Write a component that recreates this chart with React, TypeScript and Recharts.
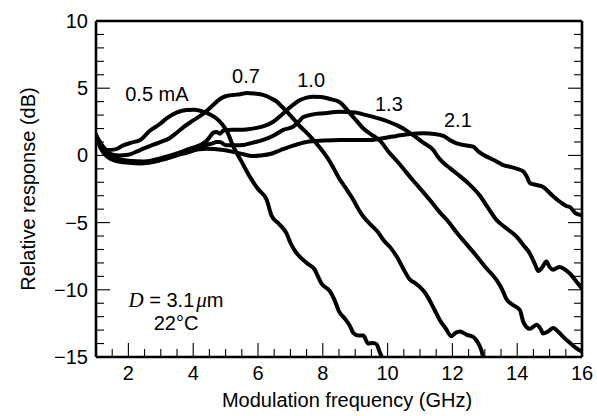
import { LineChart, Line, XAxis, YAxis, ReferenceDot } from 'recharts';

const FONT = '"Liberation Sans", Arial, Helvetica, sans-serif';
const SERIF = '"Liberation Serif", "DejaVu Serif", Times, serif';
const FS = 20;

// modulation response, [frequency GHz, relative response dB]
const I05: [number, number][] = [
  [1.0, 1.5], [1.15, 0.9], [1.35, 0.4], [1.6, 0.45], [1.84, 0.75], [2.1, 0.95], [2.36, 1.15], [2.67, 1.85],
  [2.95, 2.3], [3.18, 2.75], [3.5, 3.2], [3.8, 3.38], [4.05, 3.4], [4.31, 3.25], [4.55, 3.0], [4.72, 2.75],
  [4.9, 2.3], [5.03, 1.85], [5.24, 0.65], [5.5, -0.5], [5.75, -1.6], [6.0, -2.5], [6.27, -3.32], [6.42, -4.5],
  [6.65, -5.1], [6.88, -5.8], [7.0, -6.5], [7.14, -7.1], [7.5, -8.0], [7.75, -8.5], [7.85, -9.0], [7.95, -9.5],
  [8.22, -10.1], [8.35, -10.7], [8.5, -11.6], [8.7, -12.2], [8.84, -12.7], [8.94, -13.2], [9.1, -13.4],
  [9.25, -13.4], [9.4, -14.0], [9.55, -13.95], [9.66, -14.05], [9.75, -14.6], [9.82, -15.0],
];
const I07: [number, number][] = [
  [1.0, 1.5], [1.15, 0.8], [1.4, 0.15], [1.7, 0.0], [2.0, 0.05], [2.36, 0.4], [2.77, 0.8], [3.0, 1.0],
  [3.28, 1.3], [3.5, 1.7], [3.7, 2.1], [4.0, 2.6], [4.31, 3.1], [4.55, 3.6], [4.83, 4.2], [5.0, 4.4],
  [5.24, 4.5], [5.45, 4.55], [5.65, 4.65], [5.9, 4.6], [6.16, 4.5], [6.4, 4.25], [6.58, 4.0], [6.75, 3.6],
  [6.89, 3.25], [7.1, 2.7], [7.3, 2.15], [7.5, 1.7], [7.71, 1.15], [7.9, 0.6], [8.12, -0.1], [8.3, -0.8],
  [8.48, -1.6], [8.7, -2.4], [8.94, -3.3], [9.1, -4.0], [9.25, -4.55], [9.5, -5.2], [9.7, -5.7], [9.87, -6.3],
  [10.1, -6.9], [10.3, -7.6], [10.5, -8.5], [10.69, -9.25], [10.85, -9.5], [11.0, -9.8], [11.15, -10.2],
  [11.3, -10.8], [11.45, -11.5], [11.61, -12.25], [11.8, -12.9], [11.97, -13.45], [12.1, -13.2], [12.23, -13.1],
  [12.45, -13.35], [12.64, -13.5], [12.78, -13.9], [12.88, -14.4], [12.95, -15.0],
];
const I10: [number, number][] = [
  [1.0, 1.5], [1.15, 0.6], [1.35, 0.1], [1.6, -0.2], [2.0, -0.4], [2.5, -0.45], [3.0, -0.2], [3.5, 0.15],
  [3.9, 0.5], [4.2, 0.75], [4.42, 1.1], [4.52, 1.4], [4.62, 1.7], [4.72, 1.75], [4.83, 1.62], [4.93, 1.85],
  [5.2, 1.9], [5.44, 1.9], [5.7, 1.95], [5.96, 2.05], [6.2, 2.2], [6.47, 2.5], [6.7, 2.95], [6.88, 3.35],
  [7.1, 3.8], [7.3, 4.12], [7.5, 4.3], [7.71, 4.37], [7.95, 4.35], [8.22, 4.2], [8.53, 3.95], [8.84, 3.13],
  [9.05, 2.55], [9.25, 2.0], [9.5, 1.55], [9.76, 1.1], [10.07, 0.15], [10.3, -0.45], [10.59, -1.3],
  [10.8, -1.9], [11.0, -2.45], [11.3, -3.3], [11.6, -4.2], [11.92, -5.06], [12.15, -5.8], [12.4, -6.5],
  [12.75, -7.5], [13.05, -8.4], [13.36, -9.27], [13.52, -9.9], [13.67, -10.7], [13.85, -11.1], [14.08, -11.5],
  [14.19, -12.4], [14.3, -12.8], [14.39, -12.9], [14.6, -12.6], [14.72, -12.9], [14.8, -13.25], [14.95, -13.1],
  [15.11, -12.85], [15.3, -13.2], [15.42, -13.5], [15.63, -13.95], [15.8, -14.3], [16.0, -14.6],
];
const I13: [number, number][] = [
  [1.0, 1.5], [1.15, 0.55], [1.35, 0.0], [1.6, -0.3], [2.0, -0.5], [2.5, -0.55], [3.0, -0.35], [3.5, 0.0],
  [4.0, 0.35], [4.2, 0.55], [4.42, 0.78], [4.6, 0.9], [4.72, 1.0], [4.83, 1.0], [4.93, 0.85], [5.03, 0.75],
  [5.3, 0.75], [5.55, 0.78], [5.85, 0.95], [6.16, 1.15], [6.5, 1.5], [6.78, 1.9], [7.09, 2.15], [7.25, 2.5],
  [7.4, 2.85], [7.7, 3.05], [8.02, 3.13], [8.53, 3.25], [9.0, 3.2], [9.25, 3.05], [9.8, 2.7], [10.28, 2.25],
  [10.55, 1.9], [10.79, 1.5], [11.1, 0.95], [11.41, 0.4], [11.55, -0.1], [11.72, -0.55], [11.9, -0.9],
  [12.13, -1.35], [12.5, -2.1], [12.85, -3.0], [13.1, -3.9], [13.36, -4.8], [13.6, -5.3], [13.98, -6.05],
  [14.2, -6.7], [14.39, -7.3], [14.55, -8.1], [14.65, -8.6], [14.78, -8.3], [14.9, -7.9], [15.0, -8.3],
  [15.11, -8.5], [15.3, -8.3], [15.45, -8.45], [15.63, -8.8], [15.8, -9.3], [16.0, -9.9],
];
const I21: [number, number][] = [
  [1.0, 1.5], [1.15, 0.5], [1.35, -0.1], [1.6, -0.4], [2.0, -0.55], [2.4, -0.6], [2.9, -0.4], [3.39, 0.0],
  [3.9, 0.35], [4.42, 0.5], [4.93, 0.4], [5.44, 0.15], [5.86, -0.05], [6.1, 0.0], [6.37, 0.1], [6.7, 0.4],
  [6.99, 0.65], [7.5, 1.0], [8.02, 1.1], [8.53, 1.15], [9.45, 1.15], [9.9, 1.3], [10.28, 1.45], [10.7, 1.6],
  [11.1, 1.65], [11.45, 1.6], [11.72, 1.45], [11.95, 1.1], [12.13, 0.9], [12.4, 0.75], [12.64, 0.65],
  [12.8, 0.3], [12.95, 0.05], [13.15, -0.2], [13.36, -0.45], [13.55, -0.7], [13.78, -0.85], [14.0, -1.0],
  [14.19, -1.2], [14.3, -1.6], [14.39, -2.05], [14.6, -2.2], [14.8, -2.35], [15.05, -2.9], [15.32, -3.45],
  [15.5, -3.75], [15.63, -3.85], [15.8, -4.3], [16.0, -4.45],
];

const SERIES = [I05, I07, I10, I13, I21];

// curve labels: [text, frequency, dB]
const CURVE_LABELS: [string, number, number][] = [
  ['0.5 mA', 2.88, 4.57],
  ['0.7', 5.63, 5.91],
  ['1.0', 7.64, 5.61],
  ['1.3', 10.04, 3.82],
  ['2.1', 12.17, 2.63],
];

const X_TICKS = [1.5, 2, 2.5, 3, 3.5, 4, 4.5, 5, 5.5, 6, 6.5, 7, 7.5, 8, 8.5, 9, 9.5, 10, 10.5, 11, 11.5, 12, 12.5, 13, 13.5, 14, 14.5, 15, 15.5, 16];
const X_LABELS = [2, 4, 6, 8, 10, 12, 14, 16];
const Y_TICKS = [-15, -14, -13, -12, -11, -10, -9, -8, -7, -6, -5, -4, -3, -2, -1, 0, 1, 2, 3, 4, 5, 6, 7, 8, 9, 10];
const Y_LABELS = [-15, -10, -5, 0, 5, 10];

const MAJ = 14;
const MIN = 8;
const MID = 7; // half cap height for vertical centring
const fmt = (v: number) => (v < 0 ? `\u2212${-v}` : `${v}`);

function XTick({ x, y, payload, top }: any) {
  const v = payload.value;
  const major = X_LABELS.includes(v);
  const len = major ? MAJ : MIN;
  const dir = top ? 1 : -1;
  return (
    <g>
      {v < 16 && <line x1={x} x2={x} y1={y} y2={y + dir * len} stroke="#000" strokeWidth={1.1} />}
      {!top && major && (
        <text x={x} y={y + 23} textAnchor="middle" fontSize={FS} fontFamily={FONT} fill="#000">{v}</text>
      )}
    </g>
  );
}

function YTick({ x, y, payload, right }: any) {
  const v = payload.value;
  const major = Y_LABELS.includes(v);
  const len = major ? MAJ : MIN;
  const dir = right ? -1 : 1;
  const edge = v === -15 || v === 10;
  return (
    <g>
      {!edge && <line x1={x} x2={x + dir * len} y1={y} y2={y} stroke="#000" strokeWidth={1.1} />}
      {!right && major && (
        <text x={x - 8} y={y + MID} textAnchor="end" fontSize={FS} fontFamily={FONT} fill="#000">{fmt(v)}</text>
      )}
    </g>
  );
}

const axisLine = { stroke: '#000', strokeWidth: 2.6 };

export default function App() {
  return (
    <div style={{ position: 'absolute', left: 0, top: 0, width: 597, height: 416, background: '#fff' }}>
      <LineChart width={597} height={416} margin={{ top: 20, right: 14, bottom: 9, left: 36 }}>
        <XAxis
          xAxisId="b" dataKey="f" type="number" domain={[1, 16]} allowDataOverflow
          ticks={X_TICKS} interval={0} tickSize={0} tickMargin={0} height={50}
          axisLine={axisLine} tickLine={false} tick={<XTick />}
          label={{
            content: ({ viewBox }: any) => (
              <text x={viewBox.x + viewBox.width / 2 + 8} y={viewBox.y + 50} textAnchor="middle" fontSize={FS} fontFamily={FONT} fill="#000">
                Modulation frequency (GHz)
              </text>
            ),
          }}
        />
        <XAxis
          xAxisId="t" orientation="top" type="number" domain={[1, 16]} allowDataOverflow
          ticks={X_TICKS} interval={0} tickSize={0} tickMargin={0} height={1}
          axisLine={axisLine} tickLine={false} tick={<XTick top />}
        />
        <YAxis
          yAxisId="l" type="number" domain={[-15, 10]} allowDataOverflow
          ticks={Y_TICKS} interval={0} tickSize={0} tickMargin={0} width={60}
          axisLine={axisLine} tickLine={false} tick={<YTick />}
          label={{
            content: ({ viewBox }: any) => {
              const cx = viewBox.x - 1;
              const cy = viewBox.y + viewBox.height / 2;
              return (
                <text x={cx} y={cy} transform={`rotate(-90 ${cx} ${cy})`} textAnchor="middle" fontSize={FS} fontFamily={FONT} fill="#000">
                  Relative response (dB)
                </text>
              );
            },
          }}
        />
        <YAxis
          yAxisId="r" orientation="right" type="number" domain={[-15, 10]} allowDataOverflow
          ticks={Y_TICKS} interval={0} tickSize={0} tickMargin={0} width={1}
          axisLine={axisLine} tickLine={false} tick={<YTick right />}
        />
        {SERIES.map((s, i) => (
          <Line
            key={i}
            xAxisId="b" yAxisId="l"
            data={s.map(([f, r]) => ({ f, r }))}
            dataKey="r" type="monotone" stroke="#000" strokeWidth={4}
            dot={false} activeDot={false} isAnimationActive={false}
            strokeLinejoin="round" strokeLinecap="round"
          />
        ))}
        {CURVE_LABELS.map(([t, f, r]) => (
          <ReferenceDot
            key={t} xAxisId="b" yAxisId="l" x={f} y={r} r={0} stroke="none" fill="none"
            label={{
              content: ({ viewBox }: any) => (
                <text x={viewBox.x} y={viewBox.y + MID} textAnchor="middle" fontSize={FS} fontFamily={FONT} fill="#000">{t}</text>
              ),
            }}
          />
        ))}
        <ReferenceDot
          xAxisId="b" yAxisId="l" x={3.47} y={-10.76} r={0} stroke="none" fill="none"
          label={{
            content: ({ viewBox }: any) => (
              <text x={viewBox.x} y={viewBox.y + MID} textAnchor="middle" fontSize={FS} fontFamily={FONT} fill="#000">
                <tspan fontFamily={SERIF} fontStyle="italic" fontSize={FS + 1}>D</tspan>
                <tspan> = 3.1</tspan>
                <tspan fontFamily={SERIF} fontStyle="italic" fontSize={FS + 1} dx={2}>μ</tspan>
                <tspan>m</tspan>
              </text>
            ),
          }}
        />
        <ReferenceDot
          xAxisId="b" yAxisId="l" x={3.47} y={-12.47} r={0} stroke="none" fill="none"
          label={{
            content: ({ viewBox }: any) => (
              <text x={viewBox.x} y={viewBox.y + MID} textAnchor="middle" fontSize={FS} fontFamily={FONT} fill="#000">22°C</text>
            ),
          }}
        />
      </LineChart>
    </div>
  );
}
